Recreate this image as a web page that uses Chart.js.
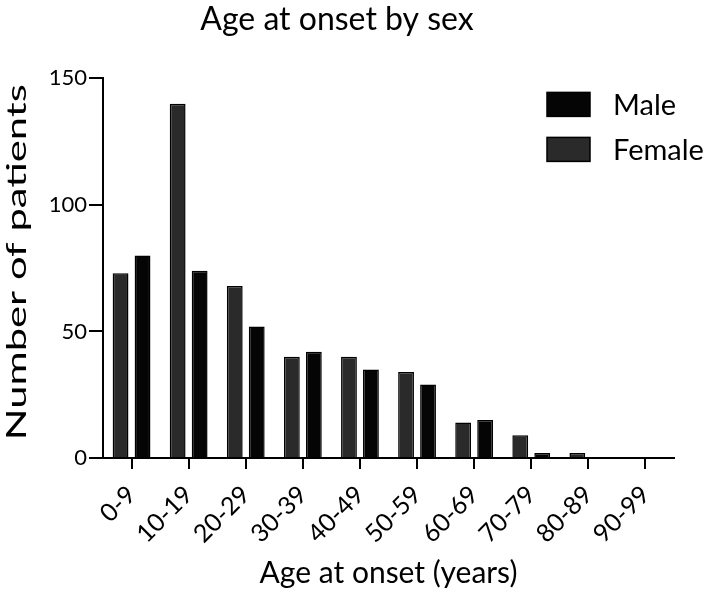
<!DOCTYPE html>
<html>
<head>
<meta charset="utf-8">
<script src="https://cdn.jsdelivr.net/npm/chart.js@4.4.0/dist/chart.umd.min.js"></script>
<style>
  html, body { margin: 0; padding: 0; background: #fff; }
  #wrap { width: 709px; height: 592px; }
</style>
</head>
<body>
<div id="wrap"><canvas id="ageChart" width="709" height="592"></canvas></div>
<script>
// Data
const ageGroups = ['0-9', '10-19', '20-29', '30-39', '40-49', '50-59', '60-69', '70-79', '80-89', '90-99'];
const femaleCounts = [73, 140, 68, 40, 40, 34, 14, 9, 2, 0];
const maleCounts = [80, 74, 52, 42, 35, 29, 15, 2, 0, 0];
const yTicks = [0, 50, 100, 150];

const FONT = 'Lato, "Open Sans", sans-serif';
const femaleColor = '#2a2a2a';
const maleColor = '#050505';

// legend inside the plot (Male listed first) + the stretched y title
const extrasPlugin = {
    id: 'extras',
    afterDraw(chart) {
        const ctx = chart.ctx;
        const area = chart.chartArea;
        const items = [
            { label: 'Male', color: maleColor },
            { label: 'Female', color: femaleColor }
        ];
        ctx.save();
        items.forEach((it, i) => {
            const x = area.right - 127;
            const y = area.top + 14 + i * 45;
            ctx.fillStyle = it.color;
            ctx.fillRect(x, y, 43, 24);
            ctx.strokeStyle = '#000';
            ctx.lineWidth = 1.5;
            ctx.strokeRect(x, y, 43, 24);
            ctx.fillStyle = '#000';
            ctx.font = '29px ' + FONT;
            ctx.textBaseline = 'middle';
            ctx.textAlign = 'left';
            ctx.fillText(it.label, x + 66, y + 13);
        });

        // y axis title, drawn long like in the source figure
        const text = 'Number of patients';
        ctx.font = '26px ' + FONT;
        const w = ctx.measureText(text).width;
        const cy = (area.top + area.bottom) / 2 - 6;
        ctx.translate(18, cy);
        ctx.rotate(-Math.PI / 2);
        ctx.scale(356 / w, 1);
        ctx.textAlign = 'center';
        ctx.textBaseline = 'middle';
        ctx.fillText(text, 0, 0);
        ctx.restore();
    }
};

const ctx = document.getElementById('ageChart').getContext('2d');
new Chart(ctx, {
    type: 'bar',
    data: {
        labels: ageGroups,
        datasets: [
            {
                label: 'Female',
                data: femaleCounts,
                backgroundColor: femaleColor,
                borderColor: '#000',
                borderWidth: 1.5
            },
            {
                label: 'Male',
                data: maleCounts,
                backgroundColor: maleColor,
                borderColor: '#000',
                borderWidth: 1.5
            }
        ]
    },
    options: {
        responsive: false,
        animation: false,
        layout: { padding: { left: 0, right: 35, top: 0, bottom: 0 } },
        datasets: { bar: { categoryPercentage: 0.77, barPercentage: 0.72 } },
        plugins: {
            legend: { display: false },
            tooltip: { enabled: false },
            title: {
                display: true,
                text: 'Age at onset by sex',
                color: '#000',
                font: { family: FONT, size: 32, weight: 'normal' },
                padding: { top: 0, bottom: 40 }
            }
        },
        scales: {
            x: {
                offset: true,
                grid: { offset: false, drawOnChartArea: false, drawTicks: true, tickLength: 11, color: '#000', lineWidth: 2 },
                border: { display: true, color: '#000', width: 2 },
                ticks: {
                    color: '#000',
                    font: { family: FONT, size: 25 },
                    maxRotation: 45,
                    minRotation: 45,
                    padding: 11
                },
                title: {
                    display: true,
                    text: 'Age at onset (years)',
                    color: '#000',
                    font: { family: FONT, size: 30 },
                    padding: { top: 0, bottom: 1 }
                },
                afterFit(scale) { scale.height = 134; }
            },
            y: {
                min: 0,
                max: 150,
                afterBuildTicks(scale) { scale.ticks = yTicks.map(v => ({ value: v })); },
                grid: { drawOnChartArea: false, drawTicks: true, tickLength: 14, color: '#000', lineWidth: 2 },
                border: { display: true, color: '#000', width: 2 },
                ticks: {
                    color: '#000',
                    font: { family: FONT, size: 22 },
                    padding: 2
                },
                afterFit(scale) { scale.width = 103; }
            }
        }
    },
    plugins: [extrasPlugin]
});
</script>
</body>
</html>
